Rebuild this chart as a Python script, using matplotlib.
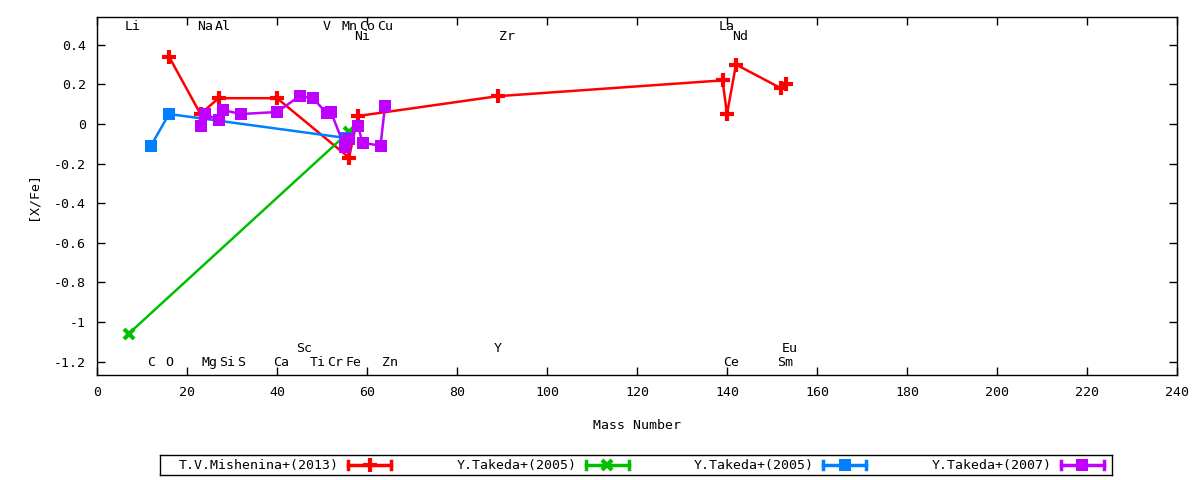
import matplotlib
matplotlib.use("Agg")
from matplotlib import pyplot as plt

# [X/Fe] vs mass number, four literature sources
mish_mass = [16, 23, 27, 40, 56, 58, 89, 139, 140, 142, 152, 153]
mish_xfe = [0.34, 0.05, 0.13, 0.13, -0.17, 0.04, 0.14, 0.22, 0.05, 0.30, 0.18, 0.20]

takeda05a_mass = [7, 56]
takeda05a_xfe = [-1.06, -0.04]

takeda05b_mass = [12, 16, 55]
takeda05b_xfe = [-0.11, 0.05, -0.07]

takeda07_mass = [23, 24, 27, 28, 32, 40, 45, 48, 51, 52, 55, 56, 58, 59, 63, 64]
takeda07_xfe = [-0.01, 0.05, 0.02, 0.07, 0.05, 0.06, 0.14, 0.13, 0.055, 0.06,
                -0.115, -0.075, -0.01, -0.095, -0.11, 0.09]

series_names = ["T.V.Mishenina+(2013)", "Y.Takeda+(2005)", "Y.Takeda+(2005)", "Y.Takeda+(2007)"]

# element name labels: name, mass number, row (0/1 top, 2/3 bottom)
elem_names = ["Li", "Na", "Al", "V", "Mn", "Co", "Cu", "La",
              "Ni", "Zr", "Nd",
              "Sc", "Y", "Eu",
              "C", "O", "Mg", "Si", "S", "Ca", "Ti", "Cr", "Fe", "Zn", "Ce", "Sm"]
elem_mass = [7, 23, 27, 51, 55, 59, 63, 139,
             58, 90, 142,
             45, 89, 153,
             12, 16, 24, 28, 32, 40, 48, 52, 56, 64, 140, 152]
elem_row = [0] * 8 + [1] * 3 + [2] * 3 + [3] * 12

FONT = "DejaVu Sans Mono"
plt.rcParams['font.family'] = [FONT]
plt.rcParams['font.size'] = 9.5

fig = plt.figure(figsize=(12, 4.8), dpi=100)
ax = fig.add_axes([97 / 1200, 1 - 375 / 480, 1080 / 1200, 358 / 480])

styles = [
    dict(color="#ff0000", marker="+", ms=10, mew=3),
    dict(color="#00c000", marker="x", ms=7, mew=3),
    dict(color="#0080ff", marker="s", ms=9, mew=0),
    dict(color="#c000ff", marker="s", ms=9, mew=0),
]
data = [(mish_mass, mish_xfe), (takeda05a_mass, takeda05a_xfe),
        (takeda05b_mass, takeda05b_xfe), (takeda07_mass, takeda07_xfe)]

for (xs, ys), st in zip(data, styles):
    ax.plot(xs, ys, lw=1.8, **st)

ax.set_xlim(0, 240)
ax.set_ylim(-1.268, 0.54)
ax.set_xticks(range(0, 241, 20))
ax.set_yticks([0.4, 0.2, 0, -0.2, -0.4, -0.6, -0.8, -1, -1.2])
ax.set_yticklabels(["0.4", "0.2", "0", "-0.2", "-0.4", "-0.6", "-0.8", "-1", "-1.2"])
ax.tick_params(direction="in", length=6, width=1, top=True, right=True, pad=8)
for sp in ax.spines.values():
    sp.set_linewidth(1)
ax.set_xlabel("Mass Number", labelpad=14)
ax.set_ylabel("[X/Fe]", labelpad=10)

row_y = {0: 0.49, 1: 0.44, 2: -1.136, 3: -1.207}
for name, m, r in zip(elem_names, elem_mass, elem_row):
    ax.annotate(name, (m, row_y[r]), xytext=(-2.5, 0), textcoords="offset points",
                ha="left", va="center")

# gnuplot-style key box
lax = fig.add_axes([160 / 1200, 1 - 475 / 480, 952 / 1200, 20 / 480])
lax.set_xlim(160, 1112)
lax.set_ylim(0, 1)
lax.set_xticks([])
lax.set_yticks([])
for sp in lax.spines.values():
    sp.set_linewidth(1)
for i, (name, st) in enumerate(zip(series_names, styles)):
    tx = 339 + i * 237.5
    lax.text(tx, 0.5, name, ha="right", va="center")
    x0, x1 = tx + 9, tx + 52
    lax.plot([x0, x1], [0.5, 0.5], color=st["color"], lw=2.5)
    lax.plot([x0, x0], [0.3, 0.7], color=st["color"], lw=2.5)
    lax.plot([x1, x1], [0.3, 0.7], color=st["color"], lw=2.5)
    lax.plot([(x0 + x1) / 2], [0.5], ls="none", **st)

fig.savefig("out.png", dpi=100)
